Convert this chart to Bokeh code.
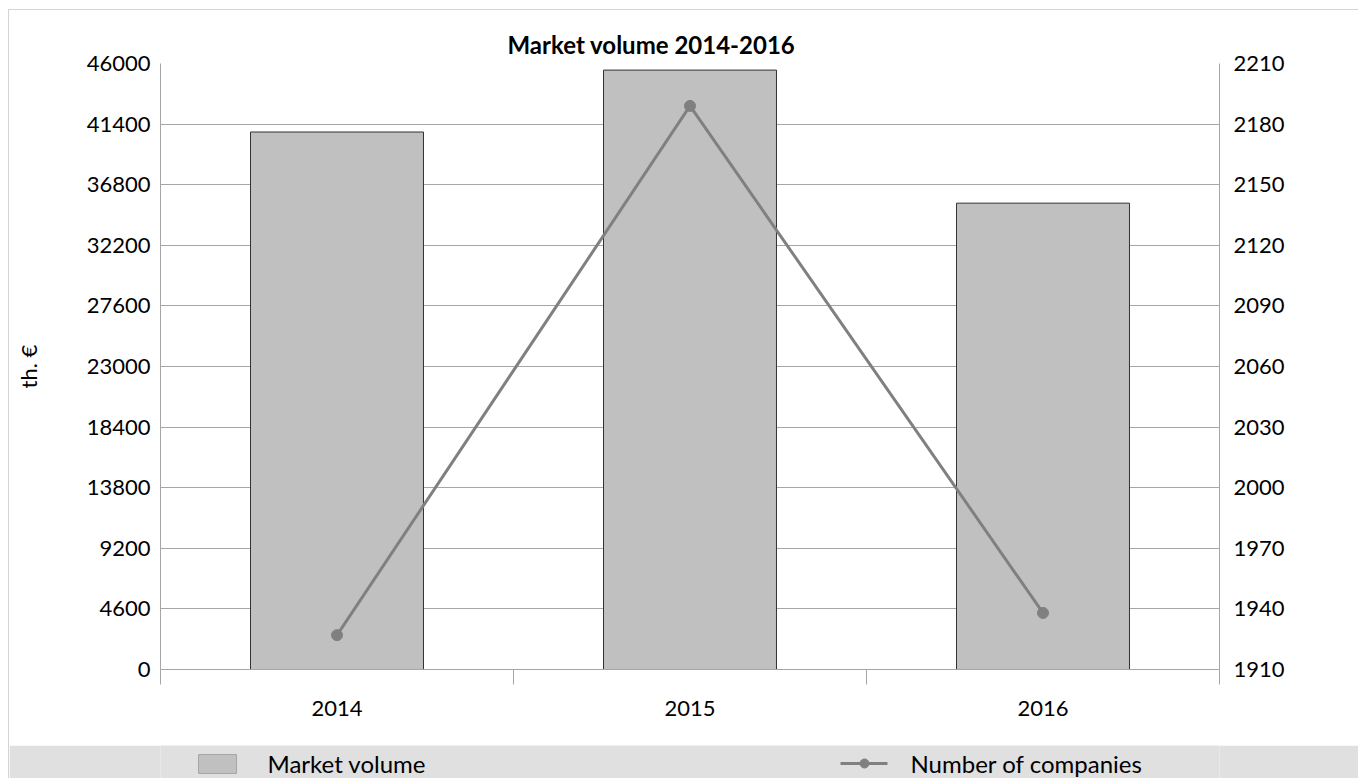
from bokeh.plotting import figure
from bokeh.models import Range1d, LinearAxis, FixedTicker
from bokeh.layouts import column
from bokeh.embed import file_html
from bokeh.resources import INLINE
from bokeh.core.properties import value

# ---- data ----
years = ["2014", "2015", "2016"]
market_volume = [40800, 45500, 35400]
companies = [1927, 2189, 1938]
left_ticks = [0, 4600, 9200, 13800, 18400, 23000, 27600, 32200, 36800, 41400, 46000]
right_ticks = [1910, 1940, 1970, 2000, 2030, 2060, 2090, 2120, 2150, 2180, 2210]
title_text = "Market volume 2014-2016"
y_label = "th. €"
series_names = ["Market volume", "Number of companies"]

FONT = "Lato"
GRID = "#a6a6a6"
BAR = "#c0c0c0"
LINE = "#808080"
BAND = "#e0e0e0"

xs = [i + 0.5 for i in range(len(years))]
bounds = list(range(len(years) + 1))

# content origin is at page (9, 10); frame at page x 160..1219, y 63..669
p = figure(width=1349, height=735,
           x_range=Range1d(0, len(years)),
           y_range=Range1d(left_ticks[0], left_ticks[-1]),
           output_backend="svg", toolbar_location=None,
           min_border_left=151, min_border_right=139,
           min_border_top=53, min_border_bottom=76)
p.outline_line_color = None
p.background_fill_color = "white"
p.border_fill_color = "white"

p.extra_y_ranges = {"cnt": Range1d(right_ticks[0], right_ticks[-1])}
raxis = LinearAxis(y_range_name="cnt", ticker=FixedTicker(ticks=right_ticks))
p.add_layout(raxis, "right")

# bars
p.vbar(x=xs, top=market_volume, bottom=0, width=0.49,
       fill_color=BAR, line_color="#333333", line_width=1)
# line
p.line(xs, companies, y_range_name="cnt", line_color=LINE, line_width=3)
p.scatter(xs, companies, y_range_name="cnt", size=11,
          fill_color=LINE, line_color=LINE)

# grid
p.xgrid.visible = False
p.ygrid.ticker = FixedTicker(ticks=left_ticks)
p.ygrid.grid_line_color = GRID
p.ygrid.grid_line_width = 1

# left axis
la = p.left[0]
la.ticker = FixedTicker(ticks=left_ticks)
la.major_tick_out = 0
la.major_tick_in = 0
la.minor_tick_out = 0
la.minor_tick_in = 0
la.axis_line_color = GRID
la.major_label_standoff = 10
la.major_label_text_font = FONT
la.major_label_text_font_size = "22px"
la.major_label_text_color = "black"
la.axis_label = y_label
la.axis_label_text_font = FONT
la.axis_label_text_font_size = "22px"
la.axis_label_text_font_style = "normal"
la.axis_label_text_color = "black"
la.axis_label_standoff = 42

# right axis
raxis.major_tick_out = 0
raxis.major_tick_in = 0
raxis.minor_tick_out = 0
raxis.minor_tick_in = 0
raxis.axis_line_color = GRID
raxis.major_label_standoff = 14
raxis.major_label_text_font = FONT
raxis.major_label_text_font_size = "22px"
raxis.major_label_text_color = "black"

# bottom axis
ba = p.below[0]
ba.ticker = FixedTicker(ticks=xs, minor_ticks=bounds)
ba.major_label_overrides = {x: y for x, y in zip(xs, years)}
ba.major_tick_out = 0
ba.major_tick_in = 0
ba.minor_tick_out = 15
ba.minor_tick_in = 0
ba.minor_tick_line_color = GRID
ba.axis_line_color = GRID
ba.major_label_standoff = 16
ba.major_label_text_font = FONT
ba.major_label_text_font_size = "22px"
ba.major_label_text_color = "black"

# title
p.title.text = title_text
p.title.align = "left"
p.title.offset = 347
p.title.text_font = FONT
p.title.text_font_size = "24px"
p.title.text_font_style = "bold"
p.title.text_color = "black"
p.title.standoff = 9

# legend band (its frame is aligned with the main frame: x 160..1219 on the page)
leg = figure(width=1349, height=33, x_range=Range1d(160, 1219), y_range=Range1d(778, 745),
             output_backend="svg", toolbar_location=None, min_border=0,
             x_axis_location=None, y_axis_location=None)
leg.background_fill_color = BAND
leg.border_fill_color = BAND
leg.outline_line_color = None
leg.grid.visible = False
leg.quad(left=[198], right=[236], top=[754], bottom=[773],
         fill_color=BAR, line_color="#a6a6a6", line_width=1)
leg.line([840, 887], [763, 763], line_color=LINE, line_width=3)
leg.scatter([864], [763], size=9, fill_color=LINE, line_color=LINE)
leg.text(x=[267, 910], y=[763, 763], text=series_names,
         text_baseline="middle", text_align="left",
         text_font=value(FONT), text_font_size="24px", text_color="black")

layout = column(p, leg, spacing=0,
                styles={"margin-left": "8px", "margin-top": "9px",
                        "border-left": "1px solid #d4d4d4", "border-top": "1px solid #d4d4d4"})

html = file_html(layout, INLINE)
html = html.replace("</head>", "<style>html,body{overflow:hidden;}</style></head>", 1)
open("out.html", "w").write(html)
